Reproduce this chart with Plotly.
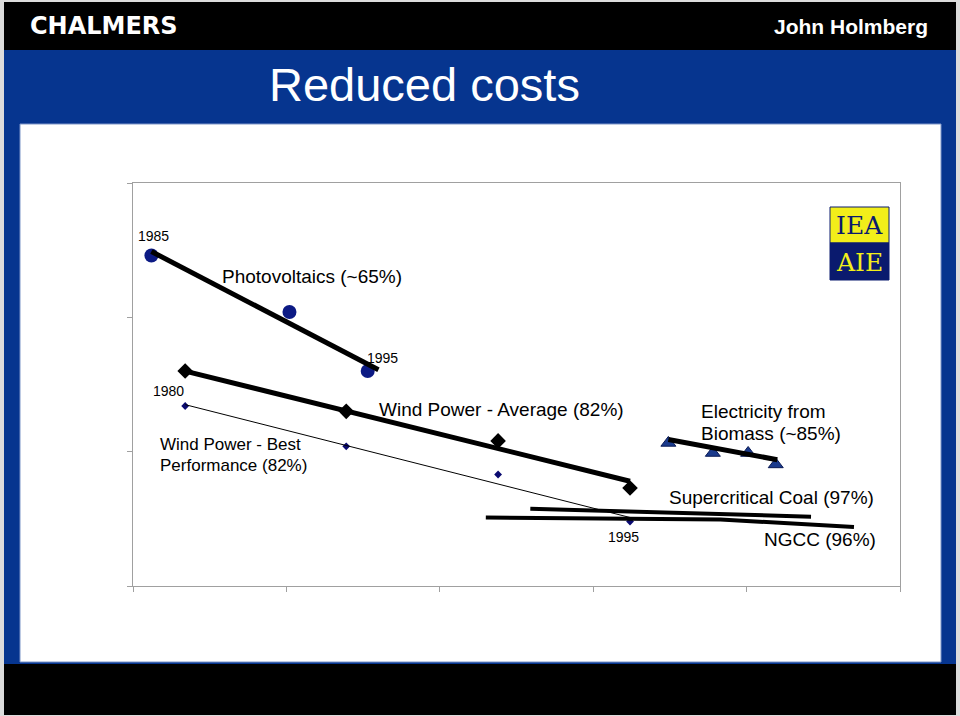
import plotly.graph_objects as go

# ---------------- data (arbitrary axis units) -------------
pv_x = [0.12, 1.02, 1.53]
pv_y = [2.46, 2.04, 1.60]
pv_trend_x = [0.12, 1.60]
pv_trend_y = [2.49, 1.61]

wind_x = [0.34, 1.39, 2.38, 3.24]
wind_avg_y = [1.60, 1.30, 1.08, 0.73]
wind_avg_trend_x = [0.34, 3.24]
wind_avg_trend_y = [1.60, 0.78]

wind_best_y = [1.34, 1.04, 0.83, 0.48]
wind_best_trend_x = [0.34, 3.24]
wind_best_trend_y = [1.35, 0.51]

bio_x = [3.49, 3.78, 4.01, 4.19]
bio_y = [1.065, 0.99, 0.99, 0.905]
bio_trend_x = [3.49, 4.20]
bio_trend_y = [1.09, 0.94]

coal_x = [2.59, 4.42]
coal_y = [0.575, 0.516]

ngcc_x = [2.30, 3.83, 4.70]
ngcc_y = [0.51, 0.495, 0.44]

x_ticks = [0, 1, 2, 3, 4, 5]
y_ticks = [0, 1, 2, 3]

# ---------------- layout geometry ----------------
W, H = 960, 716
L, R, T, B = 133, 900, 183, 586


def fx(p):
    return (p - L) / (R - L)


def fy(p):
    return (B - p) / (B - T)


def rect(x0, y0, x1, y1, color, line=None):
    d = dict(type="rect", xref="paper", yref="paper",
             x0=fx(x0), x1=fx(x1), y0=fy(y1), y1=fy(y0),
             fillcolor=color, layer="below")
    if line:
        d["line"] = dict(color=line, width=1)
    else:
        d["line"] = dict(width=0)
    return d


FONT = "Liberation Sans, Arial, sans-serif"


def ann(text, x, y, size, anchor="left", color="black", family=FONT, bold=False):
    return dict(text=text, x=fx(x), y=fy(y), xref="paper", yref="paper",
                xanchor=anchor, yanchor="middle", showarrow=False,
                font=dict(size=size, color=color, family=family,
                          weight="bold" if bold else "normal"))


fig = go.Figure()

NAVY = "#0c1a84"

# markers
fig.add_trace(go.Scatter(x=pv_x, y=pv_y, mode="markers",
                         marker=dict(symbol="circle", size=14, color=NAVY,
                                     line=dict(width=0))))
fig.add_trace(go.Scatter(x=wind_x, y=wind_avg_y, mode="markers",
                         marker=dict(symbol="diamond", size=12, color="black",
                                     line=dict(width=0))))
fig.add_trace(go.Scatter(x=wind_x, y=wind_best_y, mode="markers",
                         marker=dict(symbol="diamond", size=6, color="#0a0a70",
                                     line=dict(width=0))))
fig.add_trace(go.Scatter(x=bio_x, y=bio_y, mode="markers",
                         marker=dict(symbol="triangle-up", size=13, color="#1a3a8c",
                                     line=dict(width=1, color="#0a1a55"))))

# trend lines
fig.add_trace(go.Scatter(x=pv_trend_x, y=pv_trend_y, mode="lines",
                         line=dict(color="black", width=5)))
fig.add_trace(go.Scatter(x=wind_avg_trend_x, y=wind_avg_trend_y, mode="lines",
                         line=dict(color="black", width=5)))
fig.add_trace(go.Scatter(x=wind_best_trend_x, y=wind_best_trend_y, mode="lines",
                         line=dict(color="black", width=1)))
fig.add_trace(go.Scatter(x=bio_trend_x, y=bio_trend_y, mode="lines",
                         line=dict(color="black", width=5)))
fig.add_trace(go.Scatter(x=coal_x, y=coal_y, mode="lines",
                         line=dict(color="black", width=4)))
fig.add_trace(go.Scatter(x=ngcc_x, y=ngcc_y, mode="lines",
                         line=dict(color="black", width=4)))

shapes = [
    rect(4, 2, 956, 50, "black"),
    rect(4, 50, 956, 664, "#06358f"),
    rect(20, 124, 941, 662, "white", line="#7d95c8"),
    rect(4, 664, 956, 715, "black"),
    # logo
    rect(830, 207, 889, 243, "#f2ee1a", line="#0a1a6e"),
    rect(830, 243, 889, 280, "#0a1a6e", line="#0a1a6e"),
]

annotations = [
    ann("CHALMERS", 28, 26, 24, color="white", family="DejaVu Sans, sans-serif", bold=True),
    ann("John Holmberg", 930, 26, 21, anchor="right", color="white", bold=True),
    ann("Reduced costs", 267, 85, 47, color="white"),
    ann("IEA", 859.5, 225, 25, anchor="center", color="#0a1a6e", family="DejaVu Serif, serif"),
    ann("AIE", 859.5, 262, 25, anchor="center", color="#f2ee1a", family="DejaVu Serif, serif"),
    ann("1985", 153, 236, 14, anchor="center"),
    ann("Photovoltaics (~65%)", 220, 276, 19),
    ann("1995", 382, 358, 14, anchor="center"),
    ann("1980", 168, 391, 14, anchor="center"),
    ann("Wind Power - Best", 158, 445, 17),
    ann("Performance (82%)", 158, 465, 17),
    ann("Wind Power - Average (82%)", 377, 409.5, 19),
    ann("Electricity from", 699, 411, 19),
    ann("Biomass (~85%)", 699, 433.5, 19),
    ann("Supercritical Coal (97%)", 667, 497.5, 19),
    ann("1995", 623, 537, 14, anchor="center"),
    ann("NGCC (96%)", 762, 539.5, 19),
]

axis_common = dict(showline=True, linecolor="#a0a0a0", linewidth=1, mirror=True,
                   ticks="outside", ticklen=5, tickcolor="#a0a0a0", tickwidth=1,
                   showticklabels=False, showgrid=False, zeroline=False,
                   fixedrange=True)

fig.update_layout(
    width=W, height=H,
    margin=dict(l=L, r=W - R, t=T, b=H - B, autoexpand=False),
    paper_bgcolor="#dcdcdc",
    plot_bgcolor="rgba(0,0,0,0)",
    showlegend=False,
    xaxis=dict(range=[x_ticks[0], x_ticks[-1]], tickvals=x_ticks, **axis_common),
    yaxis=dict(range=[y_ticks[0], y_ticks[-1]], tickvals=y_ticks, **axis_common),
    shapes=shapes,
    annotations=annotations,
)

fig.write_html("out.html")
